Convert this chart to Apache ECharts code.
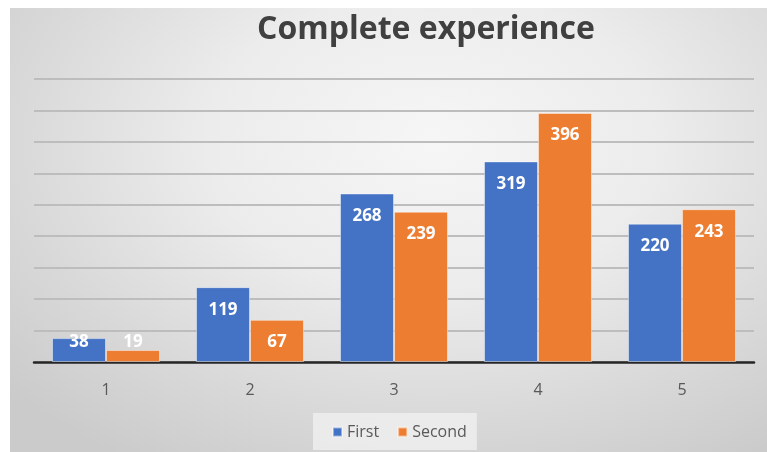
<!DOCTYPE html>
<html>
<head>
<meta charset="utf-8">
<script src="https://cdn.jsdelivr.net/npm/echarts@6/dist/echarts.min.js"></script>
<style>
  html, body { margin: 0; padding: 0; background: #ffffff; width: 767px; height: 452px; overflow: hidden; }
  #chart {
    position: absolute; left: 10px; top: 8px; width: 757px; height: 444px;
    background: radial-gradient(ellipse 75% 85% at 56% 30%, #f6f6f6 0%, #ececec 40%, #d8d8d8 75%, #cbcbcb 100%);
  }
</style>
</head>
<body>
<div id="chart"></div>
<script>
// Rating buckets and response counts per survey round
const categories = ['1', '2', '3', '4', '5'];
const firstValues = [38, 119, 268, 319, 220];
const secondValues = [19, 67, 239, 396, 243];
const seriesNames = ['First', 'Second'];

const BLUE = '#4472C4';
const ORANGE = '#ED7D31';
const FONT = '"Open Sans", "Noto Sans", sans-serif';

// Short bars cannot hold the label inside their top, so lift it to sit on the baseline area.
function withLabels(values) {
  return values.map(v => v < 50
    ? { value: v, label: { position: 'insideBottom', distance: 11 } }
    : { value: v });
}

function barSeries(name, values, color) {
  return {
    name: name,
    type: 'bar',
    data: withLabels(values),
    barGap: '0%',
    barCategoryGap: '25%',
    itemStyle: { color: color, borderColor: 'rgba(255,255,255,0.45)', borderWidth: 1 },
    label: {
      show: true,
      position: 'insideTop',
      distance: 14,
      color: '#ffffff',
      fontFamily: FONT,
      fontWeight: 'bold',
      fontSize: 17
    }
  };
}

const chart = echarts.init(document.getElementById('chart'), null, { renderer: 'canvas' });
chart.setOption({
  backgroundColor: 'transparent',
  animation: false,
  title: {
    text: 'Complete experience',
    left: 411,
    top: 1,
    textAlign: 'center',
    textStyle: { fontFamily: FONT, fontWeight: 'bold', fontSize: 32, color: '#404040' }
  },
  legend: {
    data: seriesNames,
    left: 303,
    top: 405,
    padding: [11, 10, 10, 19],
    backgroundColor: 'rgba(242,242,242,0.75)',
    itemWidth: 9,
    itemHeight: 9,
    itemGap: 18,
    icon: 'rect',
    textStyle: { fontFamily: FONT, fontSize: 16, color: '#595959' }
  },
  grid: { left: 24, right: 13, top: 71, bottom: 90, containLabel: false },
  xAxis: {
    type: 'category',
    data: categories,
    axisLine: { lineStyle: { color: '#262626', width: 2.5 } },
    axisTick: { show: false },
    axisLabel: { fontFamily: FONT, fontSize: 16, color: '#595959', margin: 20 }
  },
  yAxis: {
    type: 'value',
    min: 0,
    max: 450,
    interval: 50,
    axisLabel: { show: false },
    axisLine: { show: false },
    axisTick: { show: false },
    splitLine: { lineStyle: { color: '#bdbdbd', width: 2 } }
  },
  series: [
    barSeries(seriesNames[0], firstValues, BLUE),
    barSeries(seriesNames[1], secondValues, ORANGE)
  ]
});
</script>
</body>
</html>
